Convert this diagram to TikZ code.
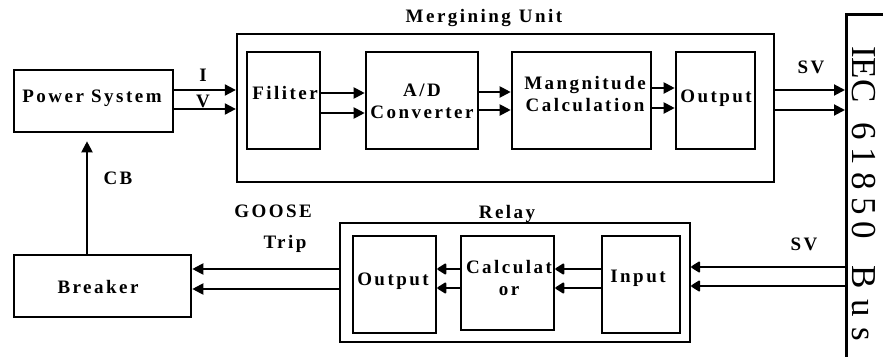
\documentclass[tikz,border=0pt]{standalone}
\usepackage{fontspec}
\setmainfont{Liberation Serif}
\newfontfamily\lblfont[LetterSpace=13]{Liberation Serif}
\newfontfamily\busfont{Liberation Serif}
\usetikzlibrary{arrows.meta}
\begin{document}
\begin{tikzpicture}[x=1pt,y=-1pt,
  box/.style={draw, line width=2.6pt, inner sep=0pt},
  outer/.style={draw, line width=2.3pt, inner sep=0pt},
  txt/.style={inner sep=0pt, font=\lblfont\bfseries\fontsize{19}{22}\selectfont, text height=12.5pt, text depth=0pt},
  mtxt/.style={inner sep=0pt, font=\lblfont\bfseries\fontsize{19}{22}\selectfont, align=center},
  arr/.style={line width=2pt, -{Triangle[length=11pt,width=11pt]}},
  rarr/.style={line width=2pt, -{Triangle[length=10pt,width=12pt,round]}}]
\useasboundingbox (0,0) rectangle (883,356);
\fill[white] (0,0) rectangle (883,356);

% Power system and breaker
\node[box, minimum width=159pt, minimum height=62pt] (ps) at (93.5,101) {};
\node[txt] (pst) at (92,96) {Power System};
\node[box, minimum width=177pt, minimum height=62pt] (br) at (102.5,286) {};
\node[txt] (brt) at (98,287) {Breaker};

% Merging unit
\node[outer, minimum width=537pt, minimum height=148pt] (mu) at (505.5,108) {};
\node[txt] (mut) at (484,16) {Mergining\hspace{8pt}Unit};
\node[box, minimum width=73pt, minimum height=97pt] (fil) at (283.5,100.5) {};
\node[txt] (filt) at (285,93) {Filiter};
\node[box, minimum width=112pt, minimum height=97pt] (ad) at (422,100.5) {};
\node[mtxt] (adt) at (422,101.5) {A/D\\Converter};
\node[box, minimum width=139pt, minimum height=97pt] (mag) at (581.5,100.5) {};
\node[mtxt] (magt) at (585,94.5) {Mangnitude\\Calculation};
\node[box, minimum width=79pt, minimum height=97pt] (mout) at (715.5,100.5) {};
\node[txt] (moutt) at (716,96) {Output};

% Relay
\node[outer, minimum width=350pt, minimum height=119pt] (rel) at (515,282.5) {};
\node[txt] (relt) at (507,212) {Relay};
\node[box, minimum width=83pt, minimum height=97pt] (rout) at (394.5,284.5) {};
\node[txt] (routt) at (393,279) {Output};
\node[box, minimum width=93pt, minimum height=94pt] (calc) at (507.5,283) {};
\node[mtxt] (calct) at (509,278) {Calculat\\or};
\node[box, minimum width=78pt, minimum height=97pt] (inp) at (641,284.5) {};
\node[txt] (inpt) at (638,276) {Input};

% IEC 61850 bus
\node[draw, line width=2.8pt, inner sep=0pt, minimum width=120pt, minimum height=420pt, anchor=north west] (bus) at (845,13) {};
\node[rotate=-90, anchor=base west, inner sep=0pt, font=\busfont\fontsize{35}{35}\selectfont] (bust) at (852,46)
  {IEC\hspace{20pt}{\addfontfeature{LetterSpace=21}61850}\hspace{26pt}{\addfontfeature{LetterSpace=30}Bus}};

% labels
\node[txt] (li) at (203,75) {I};
\node[txt] (lv) at (203,101) {V};
\node[txt] (lcb) at (118,178) {CB};
\node[txt] (lsv1) at (811,67) {SV};
\node[txt] (lsv2) at (804,244) {SV};
\node[txt] (lgo) at (273,211) {GOOSE};
\node[txt] (ltr) at (285,242) {Trip};

% connectors: merging unit path
\draw[arr] (ps.east |- 0,90) -- (mu.west |- 0,90);
\draw[arr] (ps.east |- 0,109) -- (mu.west |- 0,109);
\draw[arr] (fil.east |- 0,93) -- (ad.west |- 0,93);
\draw[arr] (fil.east |- 0,113) -- (ad.west |- 0,113);
\draw[arr] (ad.east |- 0,92) -- (mag.west |- 0,92);
\draw[arr] (ad.east |- 0,110) -- (mag.west |- 0,110);
\draw[arr] (mag.east |- 0,88) -- (mout.west |- 0,88);
\draw[arr] (mag.east |- 0,108) -- (mout.west |- 0,108);
\draw[arr] (mu.east |- 0,90) -- (bus.west |- 0,90);
\draw[arr] (mu.east |- 0,110) -- (bus.west |- 0,110);

% connectors: relay path
\draw[rarr] (bus.west |- 0,267) -- (rel.east |- 0,267);
\draw[rarr] (bus.west |- 0,286) -- (rel.east |- 0,286);
\draw[rarr] (inp.west |- 0,269) -- (calc.east |- 0,269);
\draw[rarr] (inp.west |- 0,288) -- (calc.east |- 0,288);
\draw[rarr] (calc.west |- 0,269) -- (rout.east |- 0,269);
\draw[rarr] (calc.west |- 0,288) -- (rout.east |- 0,288);
\draw[arr] (rel.west |- 0,269) -- (br.east |- 0,269);
\draw[arr] (rel.west |- 0,289) -- (br.east |- 0,289);

% CB
\draw[arr, shorten >=8pt] (br.north -| 87,0) -- (ps.south -| 87,0);
\end{tikzpicture}
\end{document}
